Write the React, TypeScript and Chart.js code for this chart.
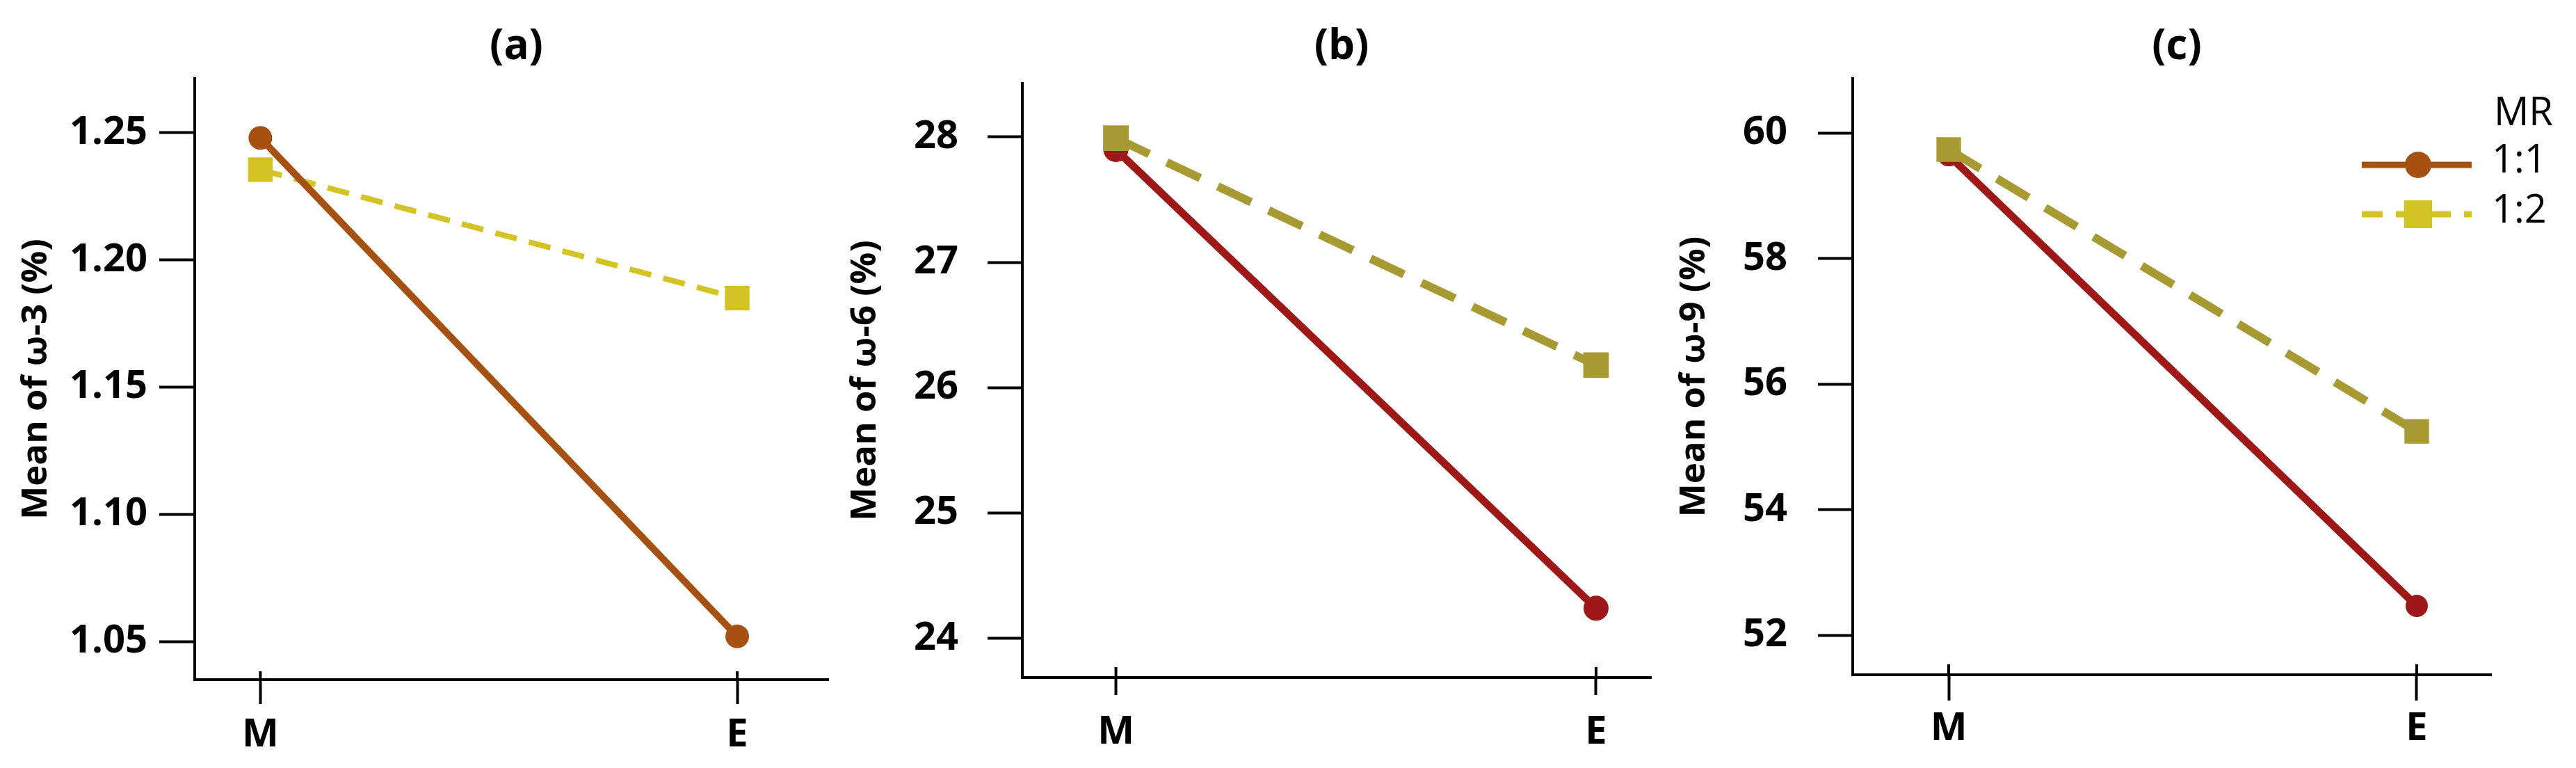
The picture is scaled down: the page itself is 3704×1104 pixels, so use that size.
import { useEffect, useRef } from "react";
import { Chart, registerables } from "chart.js";

Chart.register(...registerables);

const FONT = "'Open Sans', 'Noto Sans', sans-serif";

// data
const stages = ["M", "E"];
const ratios = ["1:1", "1:2"];

const omega3Ratio11 = [1.248, 1.052];
const omega3Ratio12 = [1.2355, 1.185];
const omega6Ratio11 = [27.9, 24.24];
const omega6Ratio12 = [27.99, 26.18];
const omega9Ratio11 = [59.65, 52.47];
const omega9Ratio12 = [59.74, 55.25];

const omega3Ticks = [1.05, 1.1, 1.15, 1.2, 1.25];
const omega6Ticks = [24, 25, 26, 27, 28];
const omega9Ticks = [52, 54, 56, 58, 60];

const legendColors = ["#A65012", "#D4C423"];

type Panel = {
  title: string;
  yTitle: string;
  s11: number[];
  s12: number[];
  yTicks: number[];
  decimals: number;
  left: number;
  width: number;
  yWidth: number;
  top: number;
  xHeight: number;
  padRight: number;
  xMin: number;
  xMax: number;
  yMin: number;
  yMax: number;
  yTitlePad: number;
  yTickPad: number;
  yTickLen: number;
  xTickLen: number;
  xTickUp: number;
  xTickPad: number;
  c11: string;
  c12: string;
  w11: number;
  w12: number;
  dash: number[];
  r11: number;
  r12: number;
  topSeries: number;
  legend?: boolean;
};

const panels: Panel[] = [
  {
    title: "(a)", yTitle: "Mean of ω-3 (%)", s11: omega3Ratio11, s12: omega3Ratio12,
    yTicks: omega3Ticks, decimals: 2,
    left: 0, width: 1216, yWidth: 280, top: 113, xHeight: 127, padRight: 4,
    xMin: -0.1376, xMax: 1.191, yMin: 1.035, yMax: 1.2713,
    yTitlePad: 22, yTickPad: 17, yTickLen: 51, xTickLen: 35, xTickUp: 12, xTickPad: 11,
    c11: "#A65012", c12: "#D4C423", w11: 10, w12: 8, dash: [32, 18], r11: 17, r12: 25, topSeries: 0,
  },
  {
    title: "(b)", yTitle: "Mean of ω-6 (%)", s11: omega6Ratio11, s12: omega6Ratio12,
    yTicks: omega6Ticks, decimals: 0,
    left: 1214, width: 1186, yWidth: 256, top: 120, xHeight: 130, padRight: 8,
    xMin: -0.1949, xMax: 1.1145, yMin: 23.687, yMax: 28.427,
    yTitlePad: 0, yTickPad: 42, yTickLen: 50, xTickLen: 25, xTickUp: 15, xTickPad: 20,
    c11: "#9E1818", c12: "#A89A32", w11: 11, w12: 12, dash: [53, 28], r11: 18, r12: 26, topSeries: 1,
  },
  {
    title: "(c)", yTitle: "Mean of ω-9 (%)", s11: omega9Ratio11, s12: omega9Ratio12,
    yTicks: omega9Ticks, decimals: 0,
    left: 2400, width: 1304, yWidth: 264, top: 113, xHeight: 134, padRight: 122,
    xMin: -0.2051, xMax: 1.159, yMin: 51.373, yMax: 60.87,
    yTitlePad: 6, yTickPad: 44, yTickLen: 50, xTickLen: 37, xTickUp: 15, xTickPad: 7,
    c11: "#9E1818", c12: "#A89A32", w11: 11, w12: 12, dash: [53, 28], r11: 16, r12: 25, topSeries: 1,
    legend: true,
  },
];

// panel title centred over the plot area
const panelTitle = {
  id: "panelTitle",
  afterDraw(chart: any, _args: any, opts: any) {
    const { ctx, chartArea } = chart;
    ctx.save();
    ctx.fillStyle = "#000";
    ctx.font = `bold 60px ${FONT}`;
    ctx.textAlign = "center";
    ctx.textBaseline = "middle";
    ctx.fillText(opts.text, (chartArea.left + chartArea.right) / 2 + 7, 68);
    ctx.restore();
  },
};

// x ticks cross the axis line: draw the short part above it
const innerTicks = {
  id: "innerTicks",
  afterDraw(chart: any, _args: any, opts: any) {
    const { ctx } = chart;
    const x = chart.scales.x;
    ctx.save();
    ctx.strokeStyle = "#000";
    ctx.lineWidth = 4;
    x.ticks.forEach((t: any) => {
      const px = x.getPixelForValue(t.value);
      ctx.beginPath();
      ctx.moveTo(px, x.top + 1);
      ctx.lineTo(px, x.top - opts.length);
      ctx.stroke();
    });
    ctx.restore();
  },
};

const mrLegend = {
  id: "mrLegend",
  afterDraw(chart: any) {
    const { ctx, chartArea } = chart;
    const right = chartArea.right;
    const x0 = right - 186;
    const x1 = right - 28;
    const xm = right - 105;
    ctx.save();
    ctx.fillStyle = "#000";
    ctx.font = `56px ${FONT}`;
    ctx.textAlign = "left";
    ctx.textBaseline = "alphabetic";
    ctx.fillText("MR", right + 4, 180);
    ratios.forEach((r, i) => {
      const y = 237 + i * 71;
      ctx.strokeStyle = legendColors[i];
      ctx.lineWidth = 9;
      ctx.setLineDash(i === 0 ? [] : [30, 19]);
      ctx.beginPath();
      ctx.moveTo(x0, y);
      ctx.lineTo(x1, y);
      ctx.stroke();
      ctx.setLineDash([]);
      ctx.fillStyle = legendColors[i];
      if (i === 0) {
        ctx.beginPath();
        ctx.arc(xm, y, 19, 0, Math.PI * 2);
        ctx.fill();
      } else {
        ctx.fillRect(xm - 20, y - 20, 40, 40);
      }
      ctx.fillStyle = "#000";
      ctx.fillText(r, right + 1, 248 + i * 72);
    });
    ctx.restore();
  },
};

function toPoints(values: number[]) {
  return values.map((y, i) => ({ x: i, y }));
}

function PanelChart({ p }: { p: Panel }) {
  const ref = useRef<HTMLCanvasElement | null>(null);

  useEffect(() => {
    if (!ref.current) return;
    const tickFont = { family: FONT, size: 56, weight: "bold" as const };

    const chart = new Chart(ref.current, {
      type: "line",
      data: {
        datasets: [
          {
            label: ratios[0],
            data: toPoints(p.s11),
            borderColor: p.c11,
            backgroundColor: p.c11,
            borderWidth: p.w11,
            pointStyle: "circle",
            pointRadius: p.r11,
            pointBackgroundColor: p.c11,
            pointBorderWidth: 0,
            order: p.topSeries === 0 ? 0 : 1,
          },
          {
            label: ratios[1],
            data: toPoints(p.s12),
            borderColor: p.c12,
            backgroundColor: p.c12,
            borderWidth: p.w12,
            borderDash: p.dash,
            pointStyle: "rect",
            pointRadius: p.r12,
            pointBackgroundColor: p.c12,
            pointBorderWidth: 0,
            order: p.topSeries === 1 ? 0 : 1,
          },
        ],
      },
      options: {
        animation: false,
        responsive: true,
        maintainAspectRatio: false,
        devicePixelRatio: 1,
        events: [],
        layout: { padding: { left: 0, right: p.padRight, top: p.top, bottom: 0 } },
        elements: { line: { tension: 0 } },
        plugins: {
          legend: { display: false },
          tooltip: { enabled: false },
          panelTitle: { text: p.title },
          innerTicks: { length: p.xTickUp },
        } as any,
        scales: {
          x: {
            type: "linear",
            min: p.xMin,
            max: p.xMax,
            afterBuildTicks: (s: any) => {
              s.ticks = stages.map((_, i) => ({ value: i }));
            },
            afterFit: (s: any) => {
              s.height = p.xHeight;
            },
            ticks: {
              color: "#000",
              font: tickFont,
              padding: p.xTickPad,
              autoSkip: false,
              maxRotation: 0,
              callback: (v: any) => stages[Math.round(Number(v))] ?? "",
            },
            grid: {
              drawOnChartArea: false,
              tickLength: p.xTickLen,
              tickWidth: 4,
              tickColor: "#000",
            },
            border: { color: "#000", width: 4 },
          },
          y: {
            type: "linear",
            min: p.yMin,
            max: p.yMax,
            afterBuildTicks: (s: any) => {
              s.ticks = p.yTicks.map((value) => ({ value }));
            },
            afterFit: (s: any) => {
              s.width = p.yWidth;
            },
            ticks: {
              color: "#000",
              font: tickFont,
              padding: p.yTickPad,
              callback: (v: any) => Number(v).toFixed(p.decimals),
            },
            grid: {
              drawOnChartArea: false,
              tickLength: p.yTickLen,
              tickWidth: 4,
              tickColor: "#000",
            },
            border: { color: "#000", width: 4 },
            title: {
              display: true,
              text: p.yTitle,
              color: "#000",
              font: { family: FONT, size: 51, weight: "bold", lineHeight: 1.2 },
              padding: { top: p.yTitlePad, bottom: 0 },
            },
          },
        },
      },
      plugins: [panelTitle, innerTicks, ...(p.legend ? [mrLegend] : [])],
    });

    return () => chart.destroy();
  }, [p]);

  return (
    <div
      style={{
        position: "absolute",
        left: p.left,
        top: 0,
        width: p.width,
        height: 1104,
      }}
    >
      <canvas ref={ref} />
    </div>
  );
}

export default function App() {
  return (
    <div
      style={{
        position: "absolute",
        left: 0,
        top: 0,
        width: 3704,
        height: 1104,
        background: "#fff",
        overflow: "hidden",
      }}
    >
      {panels.map((p) => (
        <PanelChart key={p.title} p={p} />
      ))}
    </div>
  );
}
